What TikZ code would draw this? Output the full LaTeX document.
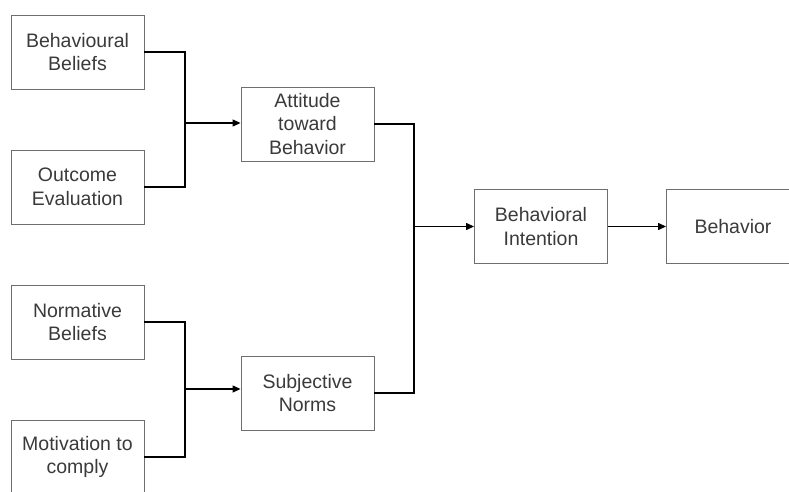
\documentclass[tikz,border=0pt]{standalone}
\usepackage{fontspec}
\setmainfont{Liberation Sans}
\usepackage{xcolor}
\usepackage{tikz}
\usetikzlibrary{arrows.meta,positioning,calc}
\definecolor{boxGray}{HTML}{6E6E6E}
\definecolor{txtGray}{HTML}{3A3A3A}

\tikzset{
  tpbbox/.style={draw=boxGray,line width=0.9pt,minimum width=133pt,minimum height=74pt,
    inner sep=2pt,align=center,text=txtGray,font=\fontsize{19.5}{23.5}\selectfont},
  tplink/.style={line width=1.3pt,black},
  tparrow/.style={tplink,-{Triangle[length=8pt,width=7pt]}}
}

\begin{document}
\begin{tikzpicture}[x=1pt,y=1pt]
\useasboundingbox (0,0) rectangle (789,491);
\clip (0,0) rectangle (789,491);
% left column
\node[tpbbox] (bb) at (77.5,439) {Behavioural\\Beliefs};
\node[tpbbox] (oe) at (77.5,304) {Outcome\\Evaluation};
\node[tpbbox] (nb) at (77.5,169) {Normative\\Beliefs};
\node[tpbbox] (mc) at (77.5,34) {Motivation to\\comply};
% middle column
\node[tpbbox] (att) at (307.5,367) {Attitude\\toward\\Behavior};
\node[tpbbox] (sn) at (307.5,98) {Subjective\\Norms};
% right
\node[tpbbox] (bi) at (541,264.5) {Behavioral\\Intention};
\node[tpbbox] (beh) at (733,264.5) {Behavior};
% junctions
\coordinate (jatt) at (185,368);
\coordinate (jsn) at (185,102);
\coordinate (jbi) at (414,264.5);
\draw[tplink] (bb.east) -| (jatt);
\draw[tplink] (oe.east) -| (jatt);
\draw[tparrow] (jatt) -- (att.west|-jatt);
\draw[tplink] (nb.east) -| (jsn);
\draw[tplink] (mc.east) -| (jsn);
\draw[tparrow] (jsn) -- (sn.west|-jsn);
\draw[tplink] (att.east) -| (jbi);
\draw[tplink] (sn.east) -| (jbi);
\draw[tparrow] (jbi) -- (bi.west);
\draw[tparrow] (bi.east) -- (beh.west);
\end{tikzpicture}
\end{document}
